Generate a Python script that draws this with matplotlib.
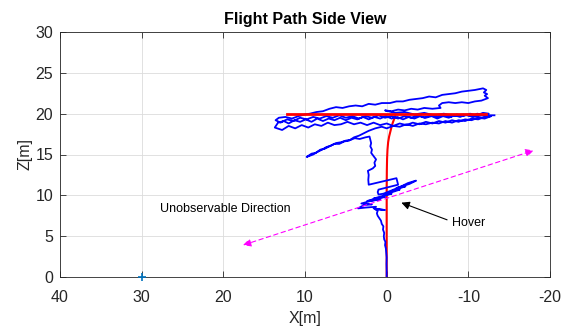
import numpy as np
import matplotlib
matplotlib.use("Agg")
import matplotlib.pyplot as plt

plt.rcParams['font.family'] = ['Liberation Sans', 'DejaVu Sans']
plt.rcParams['axes.unicode_minus'] = False

# reference trajectory (red)
ref_vert_x = [0.0, 0.0, 0.0, 0.0, 0.0, -0.02, -0.05, -0.1, -0.18, -0.3, -0.45, -0.6, -0.75, -0.9, -1.05]
ref_vert_z = [0.0, 2.0, 5.0, 8.0, 11.0, 13.0, 14.5, 15.6, 16.5, 17.2, 17.8, 18.4, 18.9, 19.3, 19.7]
ref_horiz_x = [12.2, -12.2]
ref_horiz_z = [20.0, 20.0]

# measured flight path (blue), split in phases: (x, z)
climb = [(0.0, 0.0), (0.0, 0.8), (0.02, 1.6), (0.0, 2.4), (0.05, 3.0), (0.1, 3.5), (0.2, 3.9),
         (0.15, 4.3), (0.3, 4.6), (0.35, 5.0), (0.3, 5.4), (0.45, 5.8), (0.4, 6.2), (0.6, 6.5),
         (0.7, 6.9), (0.9, 7.2), (1.1, 7.5), (1.2, 7.8), (1.1, 8.1), (1.4, 8.3), (0.2, 8.2),
         (1.6, 8.4), (1.3, 8.6)]
hover = [(2.6, 8.5), (3.5, 8.4), (2.8, 8.8), (1.8, 8.9), (3.1, 9.0), (2.0, 9.3), (0.8, 9.5),
         (2.4, 9.3), (1.4, 9.6), (0.2, 9.8), (1.6, 9.6), (0.6, 9.9), (-0.6, 10.2), (0.4, 10.0),
         (-0.4, 10.3), (-1.6, 10.7), (-0.8, 10.6), (-2.3, 11.1), (-1.2, 10.9), (-2.8, 11.4),
         (-3.6, 11.8), (-2.6, 11.5), (-1.6, 11.0), (-0.6, 10.6), (0.4, 10.2), (1.0, 10.1),
         (1.1, 10.4), (1.0, 10.7), (-1.4, 11.3), (-1.3, 11.7), (-1.2, 12.1), (0.5, 11.7), (2.2, 11.3)]
ascent = [(2.25, 11.9), (2.2, 12.5), (2.3, 13.0), (1.7, 13.3), (1.4, 13.6), (1.5, 14.0),
          (1.3, 14.4), (1.6, 14.8), (1.9, 15.2), (1.8, 15.6), (2.0, 16.0), (1.9, 16.4),
          (2.0, 16.8), (2.1, 17.2)]
branch = [(2.6, 17.1), (3.3, 16.9), (3.9, 17.0), (4.4, 16.8), (5.0, 16.7), (5.6, 16.5),
          (6.2, 16.4), (6.8, 16.1), (7.4, 15.9), (7.9, 15.6), (8.5, 15.3), (9.0, 15.0),
          (9.8, 14.7), (9.2, 15.1), (8.7, 15.2), (8.1, 15.6), (7.6, 15.7), (7.0, 16.0),
          (6.4, 16.3), (5.8, 16.3), (5.2, 16.6), (4.6, 16.7), (4.0, 17.1), (3.4, 17.3),
          (2.8, 17.6), (2.2, 17.9), (1.4, 18.2)]
cruise = [(0.6, 18.4), (0.0, 18.2), (-0.8, 18.5), (-1.6, 18.4), (-2.4, 18.7), (-3.2, 18.5),
          (-4.0, 18.8), (-4.8, 18.7), (-5.6, 18.9), (-6.4, 18.8), (-7.2, 19.1), (-8.0, 18.9),
          (-8.8, 19.2), (-9.6, 19.1), (-10.4, 19.4), (-11.2, 19.3), (-12.0, 19.6), (-12.8, 19.7),
          (-12.0, 19.4), (-11.2, 19.5), (-10.4, 19.2), (-9.6, 19.3), (-8.8, 19.0), (-8.0, 19.2),
          (-7.2, 18.9), (-6.4, 19.1), (-5.6, 18.8), (-4.8, 19.0), (-4.0, 18.7), (-3.2, 18.9),
          (-2.4, 18.6), (-1.6, 18.8), (-0.8, 18.5), (0.0, 18.8), (0.8, 18.6), (1.6, 18.9),
          (2.4, 18.6), (3.2, 18.9), (4.0, 18.7), (4.8, 19.0), (5.6, 18.7), (6.4, 18.6),
          (7.2, 18.9), (8.0, 18.5), (8.8, 18.7), (9.6, 18.3), (10.4, 18.6), (11.2, 18.2),
          (12.0, 18.5), (12.8, 18.0), (13.7, 18.3),
          (13.3, 18.9), (12.6, 19.1), (12.0, 18.8), (11.3, 19.2), (10.6, 19.0), (9.9, 19.3),
          (9.2, 19.0), (8.5, 19.4), (7.8, 19.1), (7.1, 19.4), (6.4, 19.2), (5.7, 19.5),
          (5.0, 19.2), (4.3, 19.5), (3.6, 19.3), (2.9, 19.6), (2.2, 19.3), (1.5, 19.6),
          (0.8, 19.4), (0.1, 19.7), (-0.6, 19.4), (-1.3, 19.6), (-2.0, 19.3), (-2.7, 19.6),
          (-3.4, 19.4), (-4.1, 19.7), (-4.8, 19.5), (-5.5, 19.7), (-6.2, 19.4), (-6.9, 19.7),
          (-7.6, 19.5), (-8.3, 19.8), (-9.0, 19.6), (-9.7, 19.9), (-10.4, 19.7), (-11.1, 20.0),
          (-11.8, 19.8), (-12.5, 20.0),
          (-11.8, 20.1), (-11.0, 19.8), (-10.2, 20.0), (-9.4, 19.7), (-8.6, 19.9), (-7.8, 19.6),
          (-7.0, 19.9), (-6.2, 19.6), (-5.4, 19.8), (-4.6, 19.5), (-3.8, 19.8), (-3.0, 19.5),
          (-2.2, 19.7), (-1.4, 19.4), (-0.6, 19.7), (0.2, 19.5), (1.0, 19.8), (1.8, 19.5),
          (2.6, 19.7), (3.4, 19.4), (4.2, 19.7), (5.0, 19.5), (5.8, 19.8), (6.6, 19.5),
          (7.4, 19.7), (8.2, 19.4), (9.0, 19.6), (9.8, 19.3), (10.6, 19.5), (11.4, 19.1),
          (12.2, 19.3), (13.0, 18.9), (13.6, 19.2), (13.2, 19.5), (12.4, 19.6), (11.6, 19.4),
          (10.8, 19.7), (10.0, 19.9)]
upper_loop = [(9.4, 20.0), (8.6, 20.2), (7.8, 20.3), (7.0, 20.6), (6.2, 20.8), (5.4, 20.7),
              (4.6, 20.9), (3.8, 21.0), (3.0, 20.9), (2.2, 21.2), (1.4, 21.1), (0.6, 21.3),
              (-0.4, 21.3), (-1.2, 21.5), (-2.0, 21.5), (-2.8, 21.7), (-3.6, 21.8), (-4.4, 21.9),
              (-5.2, 22.1), (-6.0, 22.0), (-6.8, 22.3), (-7.6, 22.4), (-8.4, 22.5), (-9.2, 22.7),
              (-10.0, 22.8), (-10.8, 22.9), (-11.8, 23.1), (-12.2, 22.9), (-11.9, 22.6),
              (-12.3, 22.4), (-12.0, 22.2), (-12.4, 21.9), (-11.6, 21.6), (-10.8, 21.5),
              (-10.0, 21.3), (-9.2, 21.4), (-8.4, 21.3), (-7.6, 21.4), (-6.8, 21.3), (-6.4, 21.0),
              (-6.6, 20.7), (-5.6, 20.6), (-4.6, 20.7), (-3.8, 20.5), (-3.0, 20.6), (-2.2, 20.4),
              (-1.4, 20.5), (-0.6, 20.3), (0.2, 20.4), (-1.0, 20.1), (-2.2, 20.2), (-3.4, 19.9),
              (-4.6, 20.1), (-5.8, 19.8), (-7.0, 20.0), (-8.2, 19.7), (-9.4, 19.9), (-10.6, 19.6),
              (-11.8, 19.8), (-13.2, 19.8)]

start_x, start_z = [30.0], [0.0]

# annotation anchors
unobs_tail = (17.6, 3.9)
unobs_head = (-18.0, 15.5)
hover_tail = (-7.4, 7.0)
hover_head = (-1.8, 9.1)

blue = np.array(climb + hover + ascent + branch + cruise + upper_loop)

fig = plt.figure(figsize=(5.62, 3.28), dpi=100)
ax = fig.add_axes([60 / 562, 51 / 328, 490 / 562, 245 / 328])

ax.plot(ref_vert_x, ref_vert_z, color='red', lw=1.5, zorder=2)
ax.plot(blue[:, 0], blue[:, 1], color='blue', lw=1.3, zorder=3)
ax.plot(ref_horiz_x, ref_horiz_z, color='red', lw=2.0, zorder=4)
ax.plot(start_x, start_z, '+', color='#0072BD', ms=6, mew=1.2, zorder=5, clip_on=False)

ax.annotate('', xy=unobs_head, xytext=unobs_tail,
            arrowprops=dict(arrowstyle='<|-|>', color='magenta', lw=0.8,
                            linestyle=(0, (4, 3)), mutation_scale=12, shrinkA=0, shrinkB=0))
ax.annotate('', xy=hover_head, xytext=hover_tail,
            arrowprops=dict(arrowstyle='-|>', color='black', lw=0.8,
                            mutation_scale=12, shrinkA=0, shrinkB=0))
ax.text(27.8, 8.3, 'Unobservable Direction', fontsize=9, ha='left', va='center')
ax.text(-8.0, 6.6, 'Hover', fontsize=9, ha='left', va='center')

ax.set_xlim(40, -20)
ax.set_ylim(0, 30)
ax.set_xticks([40, 30, 20, 10, 0, -10, -20])
ax.set_yticks([0, 5, 10, 15, 20, 25, 30])
ax.grid(True, color='#dcdcdc', lw=0.6)
ax.set_axisbelow(True)
for s in ax.spines.values():
    s.set_color('#262626')
    s.set_linewidth(0.6)
ax.tick_params(direction='in', length=4, width=0.6, colors='#262626', labelsize=11.5,
               top=True, right=True)
ax.tick_params(axis='y', pad=5)
ax.tick_params(axis='x', pad=9)
ax.set_xlabel('X[m]', fontsize=11.5, color='#262626', labelpad=4.5)
ax.set_ylabel('Z[m]', fontsize=11.5, color='#262626', labelpad=2)
ax.set_title('Flight Path Side View', fontsize=11.5, fontweight='bold', pad=6)

fig.savefig('out.png', dpi=100)
